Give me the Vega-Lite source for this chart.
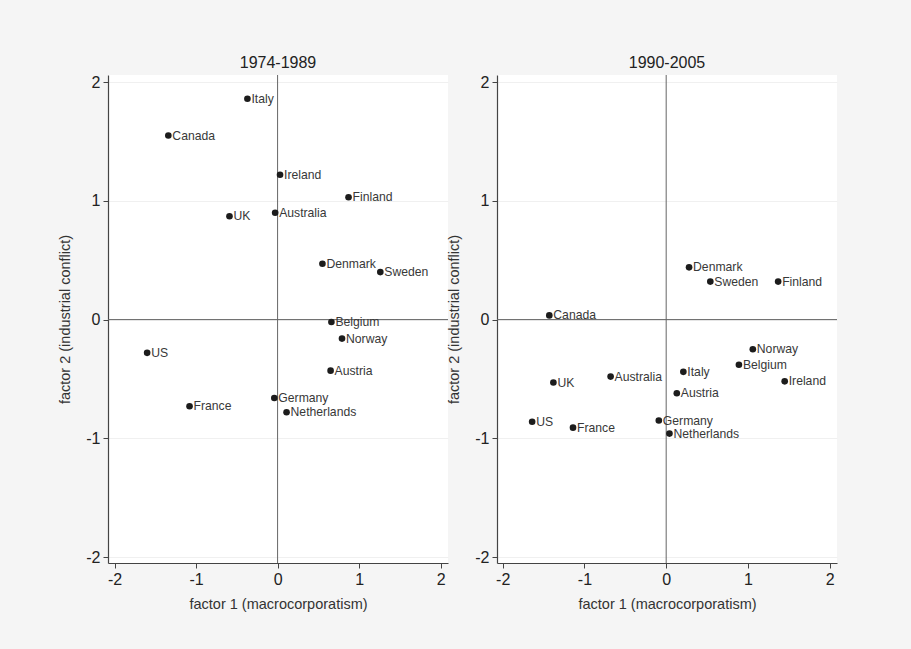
{
  "$schema": "https://vega.github.io/schema/vega-lite/v6.json",
  "background": "#f5f5f5",
  "autosize": {"type": "none"},
  "padding": {"left": 108, "top": 75, "right": 803, "bottom": 574},
  "datasets": {
    "pts": [
      {"period": "1974-1989", "country": "Italy", "f1": -0.37, "f2": 1.86},
      {"period": "1974-1989", "country": "Canada", "f1": -1.34, "f2": 1.55},
      {"period": "1974-1989", "country": "Ireland", "f1": 0.03, "f2": 1.22},
      {"period": "1974-1989", "country": "Finland", "f1": 0.87, "f2": 1.03},
      {"period": "1974-1989", "country": "UK", "f1": -0.59, "f2": 0.87},
      {"period": "1974-1989", "country": "Australia", "f1": -0.03, "f2": 0.9},
      {"period": "1974-1989", "country": "Denmark", "f1": 0.55, "f2": 0.47},
      {"period": "1974-1989", "country": "Sweden", "f1": 1.26, "f2": 0.4},
      {"period": "1974-1989", "country": "Belgium", "f1": 0.66, "f2": -0.02},
      {"period": "1974-1989", "country": "Norway", "f1": 0.79, "f2": -0.16},
      {"period": "1974-1989", "country": "US", "f1": -1.6, "f2": -0.28},
      {"period": "1974-1989", "country": "Austria", "f1": 0.65, "f2": -0.43},
      {"period": "1974-1989", "country": "Germany", "f1": -0.04, "f2": -0.66},
      {"period": "1974-1989", "country": "France", "f1": -1.08, "f2": -0.73},
      {"period": "1974-1989", "country": "Netherlands", "f1": 0.11, "f2": -0.78},
      {"period": "1990-2005", "country": "Denmark", "f1": 0.28, "f2": 0.44},
      {"period": "1990-2005", "country": "Sweden", "f1": 0.54, "f2": 0.32},
      {"period": "1990-2005", "country": "Finland", "f1": 1.37, "f2": 0.32},
      {"period": "1990-2005", "country": "Canada", "f1": -1.43, "f2": 0.035},
      {"period": "1990-2005", "country": "Norway", "f1": 1.06, "f2": -0.25},
      {"period": "1990-2005", "country": "Belgium", "f1": 0.89, "f2": -0.38},
      {"period": "1990-2005", "country": "Italy", "f1": 0.21, "f2": -0.44},
      {"period": "1990-2005", "country": "Ireland", "f1": 1.45, "f2": -0.52},
      {"period": "1990-2005", "country": "Australia", "f1": -0.68, "f2": -0.48},
      {"period": "1990-2005", "country": "UK", "f1": -1.38, "f2": -0.53},
      {"period": "1990-2005", "country": "Austria", "f1": 0.13, "f2": -0.62},
      {"period": "1990-2005", "country": "US", "f1": -1.64, "f2": -0.86},
      {"period": "1990-2005", "country": "Germany", "f1": -0.09, "f2": -0.85},
      {"period": "1990-2005", "country": "France", "f1": -1.14, "f2": -0.91},
      {"period": "1990-2005", "country": "Netherlands", "f1": 0.04, "f2": -0.96}
    ],
    "ref": [{"v": 0}]
  },
  "hconcat": [
    {
      "width": 340,
      "height": 488,
      "title": {"text": "1974-1989"},
      "layer": [
        {"data": {"name": "ref"}, "mark": {"type": "rule", "color": "#666", "strokeWidth": 1}, "encoding": {"y": {"field": "v", "type": "quantitative"}}},
        {"data": {"name": "ref"}, "mark": {"type": "rule", "color": "#666", "strokeWidth": 1}, "encoding": {"x": {"field": "v", "type": "quantitative"}}},
        {
          "data": {"name": "pts"},
          "transform": [{"filter": "datum.period === '1974-1989'"}],
          "mark": {"type": "point", "filled": true, "size": 44, "color": "#1c1c1c", "opacity": 1},
          "encoding": {
            "x": {"field": "f1", "type": "quantitative", "title": "factor 1 (macrocorporatism)", "scale": {"domain": [-2.08, 2.09], "nice": false, "zero": false}, "axis": {"values": [-2, -1, 0, 1, 2], "labelExpr": "datum.value < 0 ? '-' + abs(datum.value) : '' + datum.value"}},
            "y": {"field": "f2", "type": "quantitative", "title": "factor 2 (industrial conflict)", "scale": {"domain": [-2.05, 2.06], "nice": false, "zero": false}, "axis": {"values": [-2, -1, 0, 1, 2], "labelExpr": "datum.value < 0 ? '-' + abs(datum.value) : '' + datum.value"}}
          }
        },
        {
          "data": {"name": "pts"},
          "transform": [{"filter": "datum.period === '1974-1989'"}],
          "mark": {"type": "text", "align": "left", "baseline": "middle", "dx": 4, "fontSize": 12.2, "font": "Liberation Sans", "color": "#383838"},
          "encoding": {
            "x": {"field": "f1", "type": "quantitative"},
            "y": {"field": "f2", "type": "quantitative"},
            "text": {"field": "country"}
          }
        }
      ]
    },
    {
      "width": 340,
      "height": 488,
      "title": {"text": "1990-2005"},
      "layer": [
        {"data": {"name": "ref"}, "mark": {"type": "rule", "color": "#666", "strokeWidth": 1}, "encoding": {"y": {"field": "v", "type": "quantitative"}}},
        {"data": {"name": "ref"}, "mark": {"type": "rule", "color": "#666", "strokeWidth": 1}, "encoding": {"x": {"field": "v", "type": "quantitative"}}},
        {
          "data": {"name": "pts"},
          "transform": [{"filter": "datum.period === '1990-2005'"}],
          "mark": {"type": "point", "filled": true, "size": 44, "color": "#1c1c1c", "opacity": 1},
          "encoding": {
            "x": {"field": "f1", "type": "quantitative", "title": "factor 1 (macrocorporatism)", "scale": {"domain": [-2.07, 2.09], "nice": false, "zero": false}, "axis": {"values": [-2, -1, 0, 1, 2], "labelExpr": "datum.value < 0 ? '-' + abs(datum.value) : '' + datum.value"}},
            "y": {"field": "f2", "type": "quantitative", "title": "factor 2 (industrial conflict)", "scale": {"domain": [-2.05, 2.06], "nice": false, "zero": false}, "axis": {"values": [-2, -1, 0, 1, 2], "labelExpr": "datum.value < 0 ? '-' + abs(datum.value) : '' + datum.value"}}
          }
        },
        {
          "data": {"name": "pts"},
          "transform": [{"filter": "datum.period === '1990-2005'"}],
          "mark": {"type": "text", "align": "left", "baseline": "middle", "dx": 4, "fontSize": 12.2, "font": "Liberation Sans", "color": "#383838"},
          "encoding": {
            "x": {"field": "f1", "type": "quantitative"},
            "y": {"field": "f2", "type": "quantitative"},
            "text": {"field": "country"}
          }
        }
      ]
    }
  ],
  "spacing": 49,
  "bounds": "flush",
  "config": {
    "view": {"fill": "white", "stroke": null},
    "title": {"font": "Liberation Sans", "fontSize": 16, "fontWeight": "normal", "color": "#222", "offset": 3, "anchor": "middle"},
    "axis": {
      "domainColor": "#444",
      "domainWidth": 1.2,
      "tickColor": "#444",
      "tickSize": 5,
      "labelFont": "Liberation Sans",
      "labelFontSize": 16,
      "labelColor": "#222",
      "titleFont": "Liberation Sans",
      "titleFontSize": 14.5,
      "titleFontWeight": "normal",
      "titleColor": "#333",
      "gridColor": "#f0f0f0",
      "gridWidth": 1
    },
    "axisX": {"grid": false, "labelPadding": 3, "titlePadding": 10},
    "axisY": {"grid": true, "labelPadding": 3, "titlePadding": 13}
  }
}
